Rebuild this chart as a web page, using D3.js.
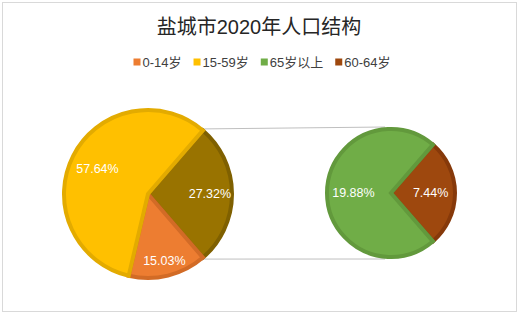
<!DOCTYPE html>
<html>
<head>
<meta charset="utf-8">
<script src="https://cdn.jsdelivr.net/npm/d3@7"></script>
<style>
  body { margin: 0; background: #fff; }
  text { font-family: "Liberation Sans", "Noto Sans CJK SC", sans-serif; }
</style>
</head>
<body>
<div id="chart"></div>
<script>
// Data
const title = "盐城市2020年人口结构";
const categories = ["0-14岁", "15-59岁", "65岁以上", "60-64岁"];
const values = [15.03, 57.64, 19.88, 7.44];
const colors = ["#ED7D31", "#FFC000", "#70AD47", "#9E480E"];
const strokes = ["#D26B26", "#E3AB00", "#62993C", "#86390A"];
// the last two categories are split off into the small pie
const splitCategories = ["65岁以上", "60-64岁"];
const otherColor = "#997300";
const otherStroke = "#7F6000";

function draw() {
    const dimensions = { width: 519, height: 314 };

    const svg = d3.select('#chart')
        .append('svg')
        .attr('width', dimensions.width)
        .attr('height', dimensions.height);

    // frame
    svg.append('rect')
        .attr('x', 2.5).attr('y', 2.5)
        .attr('width', dimensions.width - 5)
        .attr('height', dimensions.height - 5)
        .attr('fill', '#fff')
        .attr('stroke', '#d9d9d9');

    // title
    svg.append('text')
        .attr('x', 259)
        .attr('y', 34)
        .attr('text-anchor', 'middle')
        .style('font-size', '20px')
        .attr('fill', '#262626')
        .text(title);

    const rows = categories.map((c, i) => ({
        name: c, value: values[i], color: colors[i], stroke: strokes[i]
    }));
    const mainRows = rows.filter(d => !splitCategories.includes(d.name));
    const splitRows = rows.filter(d => splitCategories.includes(d.name));
    const otherValue = d3.sum(splitRows, d => d.value);
    const otherRow = { name: '其他', value: otherValue, color: otherColor, stroke: otherStroke };

    // main pie: other slice centred at 3 o'clock
    const mainData = [otherRow, ...mainRows];
    const total = d3.sum(mainData, d => d.value);
    const otherAngle = otherValue / total * 2 * Math.PI;
    const mainStart = Math.PI / 2 - otherAngle / 2;
    const mainPie = d3.pie().value(d => d.value).sort(null)
        .startAngle(mainStart).endAngle(mainStart + 2 * Math.PI);

    const main = { cx: 148, cy: 194, r: 86 };
    const small = { cx: 391, cy: 193, r: 66 };

    // secondary pie: 60-64 slice centred at 3 o'clock
    const smallData = [splitRows[1], splitRows[0]];
    const smallTotal = d3.sum(smallData, d => d.value);
    const firstAngle = smallData[0].value / smallTotal * 2 * Math.PI;
    const smallStart = Math.PI / 2 - firstAngle / 2;
    const smallPie = d3.pie().value(d => d.value).sort(null)
        .startAngle(smallStart).endAngle(smallStart + 2 * Math.PI);

    const mainSlices = mainPie(mainData);
    const smallSlices = smallPie(smallData);

    // connector lines
    const oth = mainSlices[0];
    const pt = (c, a) => [c.cx + c.r * Math.sin(a), c.cy - c.r * Math.cos(a)];
    const p1 = pt(main, oth.startAngle);
    const p2 = pt(main, oth.endAngle);
    svg.append('g')
        .selectAll('line')
        .data([[p1, [small.cx - 6, small.cy - small.r]], [p2, [small.cx - 6, small.cy + small.r]]])
        .join('line')
        .attr('x1', d => d[0][0]).attr('y1', d => d[0][1])
        .attr('x2', d => d[1][0]).attr('y2', d => d[1][1])
        .attr('stroke', '#bfbfbf')
        .attr('stroke-width', 1);

    // label radius as fraction of pie radius
    const labelPos = { '其他': 0.72, '0-14岁': 0.8, '15-59岁': 0.66, '65岁以上': 0.57, '60-64岁': 0.6 };

    function drawPie(c, slices) {
        const arc = d3.arc().outerRadius(c.r - 2).innerRadius(0);
        const g = svg.append('g')
            .attr('transform', `translate(${c.cx}, ${c.cy})`);
        g.selectAll('path')
            .data(slices)
            .join('path')
            .attr('d', arc)
            .attr('fill', d => d.data.color)
            .attr('stroke', d => d.data.stroke)
            .attr('stroke-width', 4)
            .attr('stroke-linejoin', 'miter');
        g.selectAll('text')
            .data(slices)
            .join('text')
            .attr('transform', d => {
                const a = (d.startAngle + d.endAngle) / 2;
                const rr = c.r * labelPos[d.data.name];
                return `translate(${rr * Math.sin(a)}, ${-rr * Math.cos(a)})`;
            })
            .attr('text-anchor', 'middle')
            .attr('dy', '0.35em')
            .attr('fill', '#fff')
            .style('font-size', '12.5px')
            .text(d => d.data.value.toFixed(2) + '%');
    }

    drawPie(main, mainSlices);
    drawPie(small, smallSlices);

    // legend
    const legend = svg.append('g').attr('transform', 'translate(0, 62)');
    const items = legend.selectAll('g')
        .data(rows)
        .join('g');
    items.append('rect')
        .attr('y', -3.5)
        .attr('width', 7).attr('height', 7)
        .attr('fill', d => d.color);
    items.append('text')
        .attr('x', 9)
        .attr('dy', '0.36em')
        .style('font-size', '13px')
        .attr('fill', '#404040')
        .text(d => d.name);
    let x = 0;
    const widths = [];
    items.each(function () {
        const w = this.getBBox().width;
        widths.push(x);
        x += w + 12;
    });
    const totalW = x - 12;
    const start = 262 - totalW / 2;
    items.attr('transform', (d, i) => `translate(${start + widths[i]}, 0)`);
}

draw();
</script>
</body>
</html>
